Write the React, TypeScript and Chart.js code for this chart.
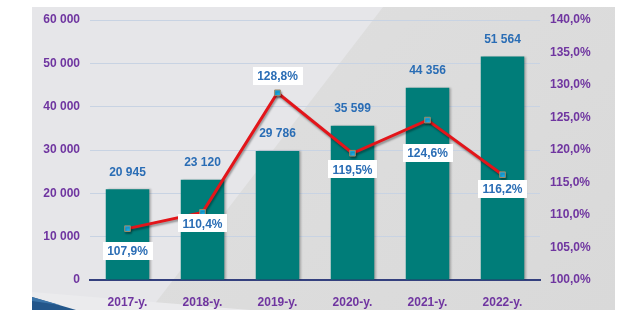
import React, { useEffect, useRef } from "react";
import { Chart, registerables } from "chart.js";

Chart.register(...registerables);

const categories = ["2017-y.", "2018-y.", "2019-y.", "2020-y.", "2021-y.", "2022-y."];
const volumes = [20945, 23120, 29786, 35599, 44356, 51564];
const volumeLabels = ["20 945", "23 120", "29 786", "35 599", "44 356", "51 564"];
const growth = [107.9, 110.4, 128.8, 119.5, 124.6, 116.2];
const growthLabels = ["107,9%", "110,4%", "128,8%", "119,5%", "124,6%", "116,2%"];
const leftTicks = ["0", "10 000", "20 000", "30 000", "40 000", "50 000", "60 000"];
const rightTicks = ["100,0%", "105,0%", "110,0%", "115,0%", "120,0%", "125,0%", "130,0%", "135,0%", "140,0%"];
const growthLabelOffsets = [22, 11, -17, 16, 33, 14];

const PURPLE = "#6f35a0";
const BLUE_TEXT = "#2a6db5";
const FONT = "'Liberation Sans', Arial, sans-serif";

const backgroundPlugin = {
  id: "bgPanel",
  beforeDraw(chart: any) {
    const ctx = chart.ctx;
    ctx.save();
    const x0 = 32, y0 = 7, x1 = 615, y1 = 310;
    ctx.fillStyle = "#e6e6e9";
    ctx.fillRect(x0, y0, x1 - x0, y1 - y0);
    // darker diagonal region on the right
    const g = ctx.createLinearGradient(300, 0, 615, 310);
    g.addColorStop(0, "#dedede");
    g.addColorStop(1, "#d9d9d9");
    ctx.fillStyle = g;
    ctx.beginPath();
    ctx.moveTo(383, y0);
    ctx.lineTo(x1, y0);
    ctx.lineTo(x1, y1);
    ctx.lineTo(150, y1);
    ctx.closePath();
    ctx.fill();
    // lighter wedge at bottom left
    ctx.fillStyle = "#ebebed";
    ctx.beginPath();
    ctx.moveTo(x0, 292);
    ctx.lineTo(250, y1);
    ctx.lineTo(x0, y1);
    ctx.closePath();
    ctx.fill();
    // dark blue corner
    ctx.fillStyle = "#23568a";
    ctx.beginPath();
    ctx.moveTo(x0, 297);
    ctx.lineTo(76, y1);
    ctx.lineTo(x0, y1);
    ctx.closePath();
    ctx.fill();
    ctx.fillStyle = "#3b74a8";
    ctx.beginPath();
    ctx.moveTo(x0, 297);
    ctx.lineTo(60, 305);
    ctx.lineTo(x0, 301);
    ctx.closePath();
    ctx.fill();
    ctx.restore();
  },
};

const shadowPlugin = {
  id: "shadows",
  beforeDatasetDraw(chart: any, args: any) {
    const ctx = chart.ctx;
    ctx.save();
    if (args.index === 1) {
      ctx.shadowColor = "rgba(0,0,0,0.35)";
      ctx.shadowOffsetX = 1;
      ctx.shadowOffsetY = 2;
      ctx.shadowBlur = 2;
    } else {
      ctx.shadowColor = "rgba(0,0,0,0.25)";
      ctx.shadowOffsetX = 2;
      ctx.shadowOffsetY = 0;
      ctx.shadowBlur = 2;
    }
  },
  afterDatasetDraw(chart: any) {
    chart.ctx.restore();
  },
};

const labelPlugin = {
  id: "valueLabels",
  afterDatasetsDraw(chart: any) {
    const ctx = chart.ctx;
    ctx.save();
    ctx.font = `bold 12px ${FONT}`;
    ctx.textAlign = "center";
    ctx.textBaseline = "middle";
    const barMeta = chart.getDatasetMeta(0);
    barMeta.data.forEach((el: any, i: number) => {
      ctx.fillStyle = BLUE_TEXT;
      ctx.fillText(volumeLabels[i], el.x, el.y - 17);
    });
    const lineMeta = chart.getDatasetMeta(1);
    lineMeta.data.forEach((el: any, i: number) => {
      const text = growthLabels[i];
      const w = ctx.measureText(text).width + 9;
      const h = 18;
      const cx = el.x;
      const cy = el.y + growthLabelOffsets[i];
      ctx.fillStyle = "#ffffff";
      ctx.fillRect(Math.round(cx - w / 2), Math.round(cy - h / 2), Math.round(w), h);
      ctx.fillStyle = BLUE_TEXT;
      ctx.fillText(text, cx, cy + 1);
    });
    ctx.restore();
  },
};

export default function App() {
  const ref = useRef<HTMLCanvasElement | null>(null);
  useEffect(() => {
    if (!ref.current) return;
    const chart = new Chart(ref.current, {
      type: "bar",
      data: {
        labels: categories,
        datasets: [
          {
            type: "bar",
            data: volumes,
            yAxisID: "y",
            backgroundColor: "#007d79",
            barPercentage: 0.58,
            categoryPercentage: 1,
            order: 2,
          } as any,
          {
            type: "line",
            data: growth,
            yAxisID: "y1",
            borderColor: "#e3151a",
            borderWidth: 3,
            pointStyle: "rect",
            pointRadius: 4,
            pointBackgroundColor: "#18aeea",
            pointBorderColor: "#a08a66",
            pointBorderWidth: 1,
            tension: 0,
            order: 1,
          } as any,
        ],
      },
      options: {
        responsive: false,
        animation: false,
        layout: { padding: { top: 20, left: 0, right: 0, bottom: 0 } },
        plugins: { legend: { display: false }, tooltip: { enabled: false } },
        scales: {
          x: {
            grid: { display: false },
            border: { display: true, color: "#34407e", width: 2 },
            ticks: { color: PURPLE, font: { family: FONT, weight: "bold", size: 12 }, padding: 7 },
            afterFit(scale: any) {
              scale.height = 46;
            },
          },
          y: {
            position: "left",
            min: 0,
            max: 60000,
            ticks: {
              stepSize: 10000,
              color: PURPLE,
              font: { family: FONT, weight: "bold", size: 12 },
              padding: 10,
              callback: (_v: any, i: number) => leftTicks[i],
            },
            grid: { color: "#c8d3e3", lineWidth: 1, drawTicks: false },
            border: { display: false },
            afterFit(scale: any) {
              scale.width = 90;
            },
          },
          y1: {
            position: "right",
            min: 100,
            max: 140,
            ticks: {
              stepSize: 5,
              color: PURPLE,
              font: { family: FONT, weight: "bold", size: 12 },
              padding: 10,
              callback: (_v: any, i: number) => rightTicks[i],
            },
            grid: { display: false, drawTicks: false },
            border: { display: false },
            afterFit(scale: any) {
              scale.width = 93;
            },
          },
        },
      } as any,
      plugins: [backgroundPlugin, shadowPlugin, labelPlugin],
    });
    return () => chart.destroy();
  }, []);
  return (
    <div style={{ position: "absolute", left: 0, top: 0, width: 633, height: 326, background: "#ffffff" }}>
      <canvas ref={ref} width={633} height={326} style={{ width: 633, height: 326, display: "block" }} />
    </div>
  );
}
